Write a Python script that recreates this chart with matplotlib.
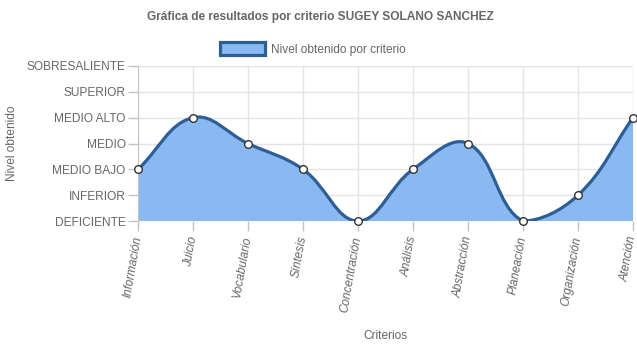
import matplotlib
matplotlib.use('Agg')
import matplotlib.pyplot as plt
import numpy as np
from matplotlib.path import Path
from matplotlib.patches import PathPatch, Patch

plt.rcParams['font.family'] = ['Liberation Sans', 'DejaVu Sans']

# Data
criterios = ['Información', 'Juicio', 'Vocabulario', 'Síntesis', 'Concentración',
             'Análisis', 'Abstracción', 'Planeación', 'Organización', 'Atención']
niveles = [2, 4, 3, 2, 0, 2, 3, 0, 1, 4]
nivel_labels = ['DEFICIENTE', 'INFERIOR', 'MEDIO BAJO', 'MEDIO', 'MEDIO ALTO',
                'SUPERIOR', 'SOBRESALIENTE']

line_color = '#2e5e96'
fill_color = '#8ab9f1'
text_color = '#666666'
grid_color = '#e4e4e4'
fs = 8.6


def spline_path(xs, ys, tension=0.4, sx=55.0, sy=25.8, ymin=0, ymax=6):
    # Chart.js style spline (control points computed in pixel-like units)
    px = np.asarray(xs, float) * sx
    py = np.asarray(ys, float) * sy
    n = len(px)
    cp_prev = []
    cp_next = []
    for i in range(n):
        p0 = (px[max(i - 1, 0)], py[max(i - 1, 0)])
        p1 = (px[i], py[i])
        p2 = (px[min(i + 1, n - 1)], py[min(i + 1, n - 1)])
        d01 = np.hypot(p1[0] - p0[0], p1[1] - p0[1])
        d12 = np.hypot(p2[0] - p1[0], p2[1] - p1[1])
        s01 = d01 / (d01 + d12) if d01 + d12 else 0
        s12 = d12 / (d01 + d12) if d01 + d12 else 0
        fa = tension * s01
        fb = tension * s12
        a = (p1[0] - fa * (p2[0] - p0[0]), p1[1] - fa * (p2[1] - p0[1]))
        b = (p1[0] + fb * (p2[0] - p0[0]), p1[1] + fb * (p2[1] - p0[1]))
        cp_prev.append((a[0] / sx, min(max(a[1] / sy, ymin), ymax)))
        cp_next.append((b[0] / sx, min(max(b[1] / sy, ymin), ymax)))
    verts = [(xs[0], ys[0])]
    codes = [Path.MOVETO]
    for i in range(n - 1):
        verts += [cp_next[i], cp_prev[i + 1], (xs[i + 1], ys[i + 1])]
        codes += [Path.CURVE4] * 3
    return verts, codes


fig = plt.figure(figsize=(6.37, 3.48), dpi=100)
ax = fig.add_axes([138 / 637, 1 - 221 / 348, (633 - 138) / 637, (221 - 66) / 348])

x = np.arange(len(criterios))
verts, codes = spline_path(x, niveles)

fill_verts = verts + [(x[-1], 0), (x[0], 0), (x[0], 0)]
fill_codes = codes + [Path.LINETO, Path.LINETO, Path.CLOSEPOLY]
ax.add_patch(PathPatch(Path(fill_verts, fill_codes), facecolor=fill_color,
                       edgecolor='none', zorder=2))
ax.add_patch(PathPatch(Path(verts, codes), facecolor='none', edgecolor=line_color,
                       lw=2.3, zorder=3, capstyle='round'))
ax.plot(x, niveles, 'o', ms=5.5, mfc='white', mec='#333333', mew=1.0, zorder=4,
        clip_on=False)

ax.set_xlim(0, len(criterios) - 1)
ax.set_ylim(0, 6)
ax.set_yticks(range(len(nivel_labels)))
ax.set_yticklabels(nivel_labels)
ax.set_xticks(x)
ax.set_xticklabels(criterios, rotation=80, ha='right', va='center',
                   rotation_mode='anchor', style='italic')
ax.tick_params(axis='both', colors='#c4c4c4', labelcolor=text_color, length=7,
               width=1, labelsize=fs, pad=2)
ax.tick_params(axis='x', pad=4)
ax.grid(True, color=grid_color, lw=1, zorder=0)
ax.set_axisbelow(True)
for side in ['top', 'right', 'bottom']:
    ax.spines[side].set_visible(False)
ax.spines['left'].set_color('#c4c4c4')

fig.text(12 / 637, 1 - 143 / 348, 'Nivel obtenido', color=text_color, fontsize=fs,
         rotation=90, ha='center', va='center')
fig.text(385 / 637, 1 - 336 / 348, 'Criterios', color=text_color, fontsize=fs,
         ha='center', va='center')
fig.text(320 / 637, 1 - 17 / 348, 'Gráfica de resultados por criterio SUGEY SOLANO SANCHEZ',
         color=text_color, fontsize=fs, fontweight='bold', ha='center', va='center')

handle = Patch(facecolor=fill_color, edgecolor=line_color, lw=2.3)
fig.legend([handle], ['Nivel obtenido por criterio'], loc='center',
           bbox_to_anchor=(313 / 637, 1 - 49 / 348), frameon=False, fontsize=fs,
           handlelength=3.8, handleheight=1.3, handletextpad=0.5,
           labelcolor=text_color)

fig.savefig('out.png', dpi=100)
